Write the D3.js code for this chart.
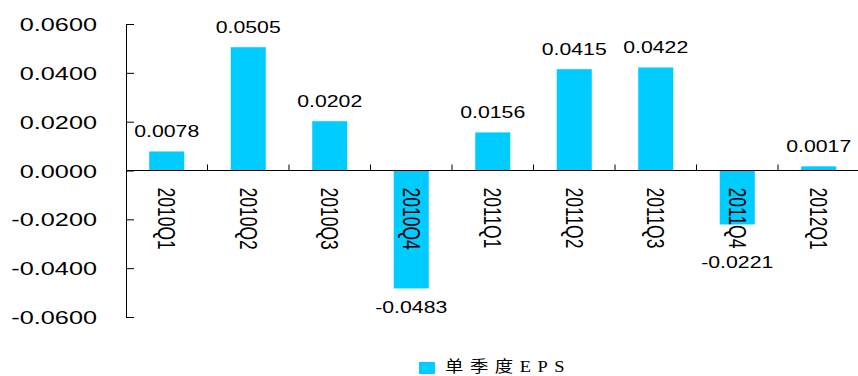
<!DOCTYPE html>
<html>
<head>
<meta charset="utf-8">
<title>单季度EPS</title>
<script src="https://d3js.org/d3.v7.min.js"></script>
<style>
  body { margin: 0; background: #fff; }
  text { font-family: "Liberation Sans", Arial, sans-serif; fill: #000; }
</style>
</head>
<body>
<div id="chart"></div>
<script>
// data
var quarters = ["2010Q1", "2010Q2", "2010Q3", "2010Q4", "2011Q1", "2011Q2", "2011Q3", "2011Q4", "2012Q1"];
var eps = [0.0078, 0.0505, 0.0202, -0.0483, 0.0156, 0.0415, 0.0422, -0.0221, 0.0017];
var yTicks = [-0.06, -0.04, -0.02, 0, 0.02, 0.04, 0.06];
var seriesName = "单季度EPS";

var width = 858, height = 376;
var stretch = 1.33; // the original text is a bit wide

var svg = d3.select("#chart").append("svg")
    .attr("width", width)
    .attr("height", height);

var x = d3.scaleBand().domain(quarters).range([126, 859.5]).padding(0);
var y = d3.scaleLinear().domain([-0.06, 0.06]).range([317, 24]);
var y0 = y(0);
var barW = x.bandwidth() * 0.43;

// bars
svg.append("g").selectAll("rect")
    .data(eps)
    .enter().append("rect")
    .attr("x", function(d, i) { return x(quarters[i]) + (x.bandwidth() - barW) / 2; })
    .attr("y", function(d) { return Math.min(y(d), y0); })
    .attr("width", barW)
    .attr("height", function(d) { return Math.abs(y(d) - y0); })
    .attr("fill", "#00CCFF");

// y axis, ticks pointing inside, labels on the left
var yAxis = svg.append("g")
    .attr("transform", "translate(126,0)")
    .call(d3.axisLeft(y).tickValues(yTicks).tickFormat(d3.format(".4f"))
        .tickSizeInner(-8).tickSizeOuter(0).tickPadding(29));
yAxis.select(".domain").attr("stroke", "#000");
yAxis.selectAll("line").attr("stroke", "#000");
yAxis.selectAll("text")
    .attr("x", 0).attr("dy", "0.35em")
    .attr("transform", "translate(-29,0) scale(" + stretch + ",1)")
    .style("font-family", '"Liberation Sans", Arial, sans-serif')
    .style("font-size", "19px")
    .text(function(d) { return d3.format(".4f")(d).replace("−", "-"); });

// zero line with tick marks between categories
svg.append("line")
    .attr("x1", x.range()[0]).attr("x2", x.range()[1])
    .attr("y1", y0).attr("y2", y0)
    .attr("stroke", "#000");
svg.append("g").selectAll("line")
    .data(quarters.slice(1).map(function(q) { return x(q); }).concat([x.range()[1] - 1]))
    .enter().append("line")
    .attr("x1", function(d) { return d; }).attr("x2", function(d) { return d; })
    .attr("y1", y0).attr("y2", y0 - 6)
    .attr("stroke", "#000");

// category labels, rotated
svg.append("g").selectAll("text")
    .data(quarters)
    .enter().append("text")
    .attr("transform", function(d) {
        return "translate(" + (x(d) + x.bandwidth() / 2) + "," + (y0 + 17) + ") scale(" + stretch + ",1) rotate(90)";
    })
    .attr("dominant-baseline", "central")
    .style("font-size", "17.5px")
    .text(function(d) { return d; });

// value labels
svg.append("g").selectAll("text")
    .data(eps)
    .enter().append("text")
    .attr("transform", function(d, i) {
        var cx = x(quarters[i]) + x.bandwidth() / 2;
        var ty = d >= 0 ? y(d) - 14 : Math.max(y(d), y0 + 72) + 25;
        return "translate(" + cx + "," + ty + ") scale(" + stretch + ",1)";
    })
    .attr("text-anchor", "middle")
    .style("font-size", "16px")
    .text(function(d) { return d3.format(".4f")(d).replace("−", "-"); });

// legend
var legend = svg.append("g");
legend.append("rect")
    .attr("x", 419).attr("y", 362)
    .attr("width", 16).attr("height", 12)
    .attr("fill", "#00CCFF");
legend.append("text")
    .attr("transform", "translate(445,372) scale(1.15,1)")
    .attr("textLength", 104)
    .attr("lengthAdjust", "spacing")
    .style("font-family", '"Liberation Serif", "Noto Sans CJK SC", serif')
    .style("font-size", "16px")
    .text(seriesName);
</script>
</body>
</html>
